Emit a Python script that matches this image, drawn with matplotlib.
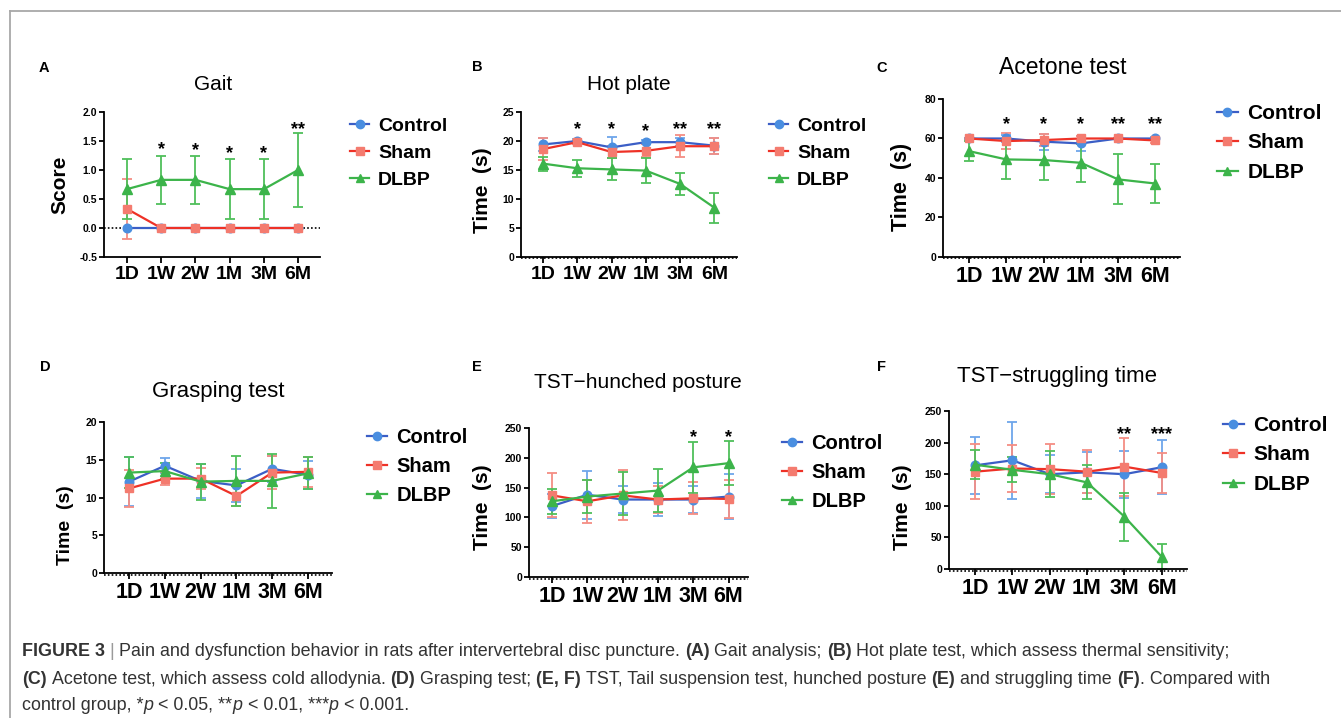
import numpy as np
import matplotlib
matplotlib.use("Agg")
import matplotlib.pyplot as plt
import matplotlib.transforms as mtransforms
from matplotlib.lines import Line2D

# ── Config ─────────────────────────────────────────────────────────────────────
W, H, DPI = 1341, 718, 100
plt.rcParams["font.family"] = ["Liberation Sans", "DejaVu Sans"]

CTRL_LINE, CTRL_MK, CTRL_ERR = "#3b5ec6", "#4a8ee0", "#6ea6ea"
SHAM_LINE, SHAM_MK, SHAM_ERR = "#ee3126", "#f47b6f", "#f58e84"
DLBP_LINE, DLBP_MK, DLBP_ERR = "#3cb44a", "#3cb44a", "#4fbf5a"
CAP_COLOR = "#333333"

# ── Data (mean ± SD) ───────────────────────────────────────────────────────────
TIMEPOINTS = ["1D", "1W", "2W", "1M", "3M", "6M"]
GROUPS = ["Control", "Sham", "DLBP"]

# A  Gait
gait_control = [0, 0, 0, 0, 0, 0]
gait_control_err = [0, 0, 0, 0, 0, 0]
gait_sham = [0.33, 0, 0, 0, 0, 0]
gait_sham_err = [0.52, 0, 0, 0, 0, 0]
gait_dlbp = [0.67, 0.83, 0.83, 0.67, 0.67, 1.0]
gait_dlbp_err = [0.52, 0.41, 0.41, 0.52, 0.52, 0.63]
gait_stars = ["", "*", "*", "*", "*", "**"]
gait_star_y = [0, 1.36, 1.34, 1.28, 1.28, 1.70]

# B  Hot plate
hot_control = [19.4, 20.0, 18.9, 19.8, 19.8, 19.2]
hot_control_err = [1.1, 0.3, 1.8, 0.3, 0.7, 1.4]
hot_sham = [18.6, 19.8, 18.1, 18.3, 19.1, 19.1]
hot_sham_err = [1.9, 0.4, 1.0, 1.1, 1.9, 1.4]
hot_dlbp = [16.1, 15.3, 15.1, 14.9, 12.6, 8.5]
hot_dlbp_err = [1.2, 1.5, 1.9, 2.2, 1.9, 2.6]
hot_stars = ["", "*", "*", "*", "**", "**"]
hot_star_y = [0, 22.0, 22.0, 21.7, 22.0, 22.0]

# C  Acetone test
ace_control = [60.0, 60.0, 58.4, 57.5, 60.0, 60.0]
ace_control_err = [0.5, 2.0, 4.0, 4.0, 0.5, 1.0]
ace_sham = [60.0, 58.7, 59.2, 60.0, 60.0, 59.0]
ace_sham_err = [0.5, 4.0, 3.0, 1.5, 0.5, 1.5]
ace_dlbp = [53.6, 49.4, 49.1, 47.7, 39.3, 37.2]
ace_dlbp_err = [5.0, 9.8, 10.3, 9.5, 12.6, 9.7]
ace_stars = ["", "*", "*", "*", "**", "**"]
ace_star_y = [0, 67.0, 67.0, 67.0, 67.0, 67.0]

# D  Grasping test
grasp_control = [12.1, 14.2, 12.2, 11.6, 13.8, 13.0]
grasp_control_err = [3.2, 1.0, 2.2, 2.2, 1.7, 1.9]
grasp_sham = [11.2, 12.5, 12.5, 10.2, 13.3, 13.4]
grasp_sham_err = [2.5, 0.9, 1.4, 1.3, 2.2, 2.0]
grasp_dlbp = [13.3, 13.5, 12.1, 12.2, 12.2, 13.2]
grasp_dlbp_err = [2.0, 1.1, 2.4, 3.3, 3.6, 2.1]
grasp_stars = ["", "", "", "", "", ""]
grasp_star_y = [0, 0, 0, 0, 0, 0]

# E  TST - hunched posture
hunch_control = [119, 138, 130, 130, 130, 135]
hunch_control_err = [20, 40, 22, 28, 22, 37]
hunch_sham = [137, 127, 137, 130, 132, 131]
hunch_sham_err = [37, 36, 42, 23, 27, 32]
hunch_dlbp = [127, 135, 140, 145, 184, 191]
hunch_dlbp_err = [21, 28, 36, 36, 43, 37]
hunch_stars = ["", "", "", "", "*", "*"]
hunch_star_y = [0, 0, 0, 0, 234, 234]

# F  TST - struggling time
strug_control = [164, 172, 150, 153, 150, 161]
strug_control_err = [45, 61, 30, 32, 37, 43]
strug_sham = [154, 159, 158, 154, 162, 152]
strug_sham_err = [43, 37, 39, 34, 46, 32]
strug_dlbp = [165, 157, 150, 137, 83, 19.5]
strug_dlbp_err = [23, 20, 36, 27, 38, 20]
strug_stars = ["", "", "", "", "**", "***"]
strug_star_y = [0, 0, 0, 0, 213, 213]


def fx(px):
    return px / W


def fy(py):
    return 1 - py / H


fig = plt.figure(figsize=(W / DPI, H / DPI), dpi=DPI, facecolor="white")

# grey frame (top + left)
fig.add_artist(Line2D([fx(10), 1], [fy(10.5), fy(10.5)], color="#a8a8a8", lw=1.3,
                      transform=fig.transFigure))
fig.add_artist(Line2D([fx(9.5), fx(9.5)], [fy(10.5), 0], color="#a8a8a8", lw=1.3,
                      transform=fig.transFigure))

STYLES = [
    (CTRL_LINE, CTRL_MK, CTRL_ERR, "o"),
    (SHAM_LINE, SHAM_MK, SHAM_ERR, "s"),
    (DLBP_LINE, DLBP_MK, DLBP_ERR, "^"),
]


def panel(box, xlim, ylim, yticks, yfmt, series, stars, star_y, letter, letter_xy,
          title, title_xy, title_size, ylabel, ylabel_xy, ylabel_size, tick_size,
          leg_xy, leg_size, leg_space, zero_line_offset):
    l, t, r, b = box
    ax = fig.add_axes([fx(l), fy(b), (r - l) / W, (b - t) / H])
    x = np.arange(len(TIMEPOINTS))

    for i, ((mean, err), (lc, mc, ec, mk)) in enumerate(zip(series, STYLES)):
        mean = np.asarray(mean, float)
        err = np.asarray(err, float)
        keep = err > 0
        if keep.any():
            ax.errorbar(x[keep], mean[keep], yerr=err[keep], fmt="none", ecolor=ec,
                        elinewidth=1.3, capsize=3.8, capthick=1.3, zorder=2 + i * 0.1)
        ax.plot(x, mean, color=lc, lw=1.6, marker=mk, ms=6.2 if mk != "^" else 6.5,
                mfc=mc, mec=mc, zorder=3 + i)

    for xi, (s, sy) in enumerate(zip(stars, star_y)):
        if s:
            ax.text(xi, sy, s, ha="center", va="center", fontsize=13,
                    fontweight="bold", color="black", zorder=6)

    # dotted zero line (GraphPad style)
    trans = mtransforms.offset_copy(ax.transData, fig=fig, y=zero_line_offset, units="dots")
    ax.plot([xlim[0], xlim[1]], [0, 0], ls=(0, (1.0, 1.3)), lw=1.2, color="black",
            transform=trans, clip_on=False, zorder=1)

    ax.set_xlim(*xlim)
    ax.set_ylim(*ylim)
    ax.set_xticks(x)
    ax.set_xticklabels(TIMEPOINTS, fontsize=tick_size, fontweight="bold")
    ax.set_yticks(yticks)
    ax.set_yticklabels([yfmt.format(v) for v in yticks], fontsize=7.5, fontweight="bold")
    for side in ("top", "right"):
        ax.spines[side].set_visible(False)
    for side in ("left", "bottom"):
        ax.spines[side].set_linewidth(1.3)
    ax.tick_params(axis="x", length=4, width=1.3, pad=2.5)
    ax.tick_params(axis="y", length=3.5, width=1.3, pad=1.5)
    ax.set_facecolor("none")

    ax.set_ylabel(ylabel, fontsize=ylabel_size, fontweight="bold", va="center", ha="center")
    ax.yaxis.set_label_coords((ylabel_xy[0] - l) / (r - l), (b - ylabel_xy[1]) / (b - t))

    fig.text(fx(title_xy[0]), fy(title_xy[1]), title, ha="center", va="center",
             fontsize=title_size)
    fig.text(fx(letter_xy[0]), fy(letter_xy[1]), letter, ha="left", va="center",
             fontsize=10.5, fontweight="bold")

    handles = [Line2D([], [], color=lc, lw=1.6, marker=mk, ms=6, mfc=mc, mec=mc)
               for lc, mc, ec, mk in STYLES]
    fig.legend(handles, GROUPS, loc="upper left", bbox_to_anchor=(fx(leg_xy[0]), fy(leg_xy[1])),
               frameon=False, prop=dict(weight="bold", size=leg_size), handlelength=1.0,
               handletextpad=0.45, labelspacing=leg_space, borderpad=0, borderaxespad=0)
    return ax


panel((104, 112, 320, 257), (-0.67, 5.64), (-0.5, 2.0), [-0.5, 0, 0.5, 1.0, 1.5, 2.0], "{:.1f}",
      [(gait_control, gait_control_err), (gait_sham, gait_sham_err), (gait_dlbp, gait_dlbp_err)],
      gait_stars, gait_star_y, "A", (39, 68), "Gait", (213, 85), 15,
      "Score", (60, 185), 15, 14, (350, 117), 14, 0.5, 0)

panel((521, 112, 737, 257), (-0.64, 5.66), (0, 25), [0, 5, 10, 15, 20, 25], "{:.0f}",
      [(hot_control, hot_control_err), (hot_sham, hot_sham_err), (hot_dlbp, hot_dlbp_err)],
      hot_stars, hot_star_y, "B", (472, 67), "Hot plate", (629, 84), 15,
      "Time  (s)", (483, 190), 15, 14, (769, 117), 14, 0.5, -1.5)

panel((943, 99, 1180, 257), (-0.70, 5.66), (0, 80), [0, 20, 40, 60, 80], "{:.0f}",
      [(ace_control, ace_control_err), (ace_sham, ace_sham_err), (ace_dlbp, ace_dlbp_err)],
      ace_stars, ace_star_y, "C", (876, 68), "Acetone test", (1063, 68), 16.5,
      "Time  (s)", (902, 187), 15.5, 15.5, (1217, 104), 15, 0.5, -1.5)

panel((104, 422, 332, 573), (-0.70, 5.67), (0, 20), [0, 5, 10, 15, 20], "{:.0f}",
      [(grasp_control, grasp_control_err), (grasp_sham, grasp_sham_err),
       (grasp_dlbp, grasp_dlbp_err)],
      grasp_stars, grasp_star_y, "D", (40, 367), "Grasping test", (218, 392), 16,
      "Time  (s)", (65, 525), 14, 15.5, (367, 428), 14.5, 0.5, -1.5)

panel((529, 428, 748, 577), (-0.65, 5.55), (0, 250), [0, 50, 100, 150, 200, 250], "{:.0f}",
      [(hunch_control, hunch_control_err), (hunch_sham, hunch_sham_err),
       (hunch_dlbp, hunch_dlbp_err)],
      hunch_stars, hunch_star_y, "E", (472, 367), "TST\u2212hunched posture", (638, 382), 15,
      "Time  (s)", (483, 507), 15, 15.5, (782, 434), 14.5, 0.5, -1.5)

panel((949, 411, 1187, 569), (-0.70, 5.68), (0, 250), [0, 50, 100, 150, 200, 250], "{:.0f}",
      [(strug_control, strug_control_err), (strug_sham, strug_sham_err),
       (strug_dlbp, strug_dlbp_err)],
      strug_stars, strug_star_y, "F", (877, 367), "TST\u2212struggling time", (1057, 377), 16,
      "Time  (s)", (902, 507), 15, 15.5, (1223, 416), 15, 0.5, -1.5)

# ── Caption (mixed bold / italic runs) ─────────────────────────────────────────
CAPTION = [
    [("FIGURE 3", "b"), ("", "gap"), ("|", "bar"),
     (" Pain and dysfunction behavior in rats after intervertebral disc puncture. ", "n"),
     ("(A)", "b"), (" Gait analysis; ", "n"), ("(B)", "b"),
     (" Hot plate test, which assess thermal sensitivity;", "n")],
    [("(C)", "b"), (" Acetone test, which assess cold allodynia. ", "n"), ("(D)", "b"),
     (" Grasping test; ", "n"), ("(E, F)", "b"),
     (" TST, Tail suspension test, hunched posture ", "n"), ("(E)", "b"),
     (" and struggling time ", "n"), ("(F)", "b"), (". Compared with", "n")],
    [("control group, *", "n"), ("p", "i"), (" < 0.05, **", "n"), ("p", "i"),
     (" < 0.01, ***", "n"), ("p", "i"), (" < 0.001.", "n")],
]
CAP_SIZE = 12.9
renderer = fig.canvas.get_renderer()


def _width(s, **kw):
    t = fig.text(0, 0, s, fontsize=CAP_SIZE, **kw)
    w = t.get_window_extent(renderer).width
    t.remove()
    return w


space_w = _width("x x") - _width("xx")
for line, y_px in zip(CAPTION, [652, 679, 705]):
    xpos = 22
    for seg, style in line:
        if style == "gap":
            xpos += 4
            continue
        kw = {}
        color = CAP_COLOR
        if style == "b":
            kw["fontweight"] = "bold"
        elif style == "i":
            kw["fontstyle"] = "italic"
        elif style == "bar":
            color = "#9a9a9a"
        core = seg.strip(" ")
        lead = len(seg) - len(seg.lstrip(" "))
        trail = len(seg) - len(seg.rstrip(" "))
        xpos += lead * space_w
        if core:
            t = fig.text(fx(xpos), fy(y_px), core, fontsize=CAP_SIZE, color=color,
                         ha="left", va="center", **kw)
            xpos += t.get_window_extent(renderer).width
        xpos += trail * space_w

fig.savefig("out.png", dpi=DPI, facecolor="white")
